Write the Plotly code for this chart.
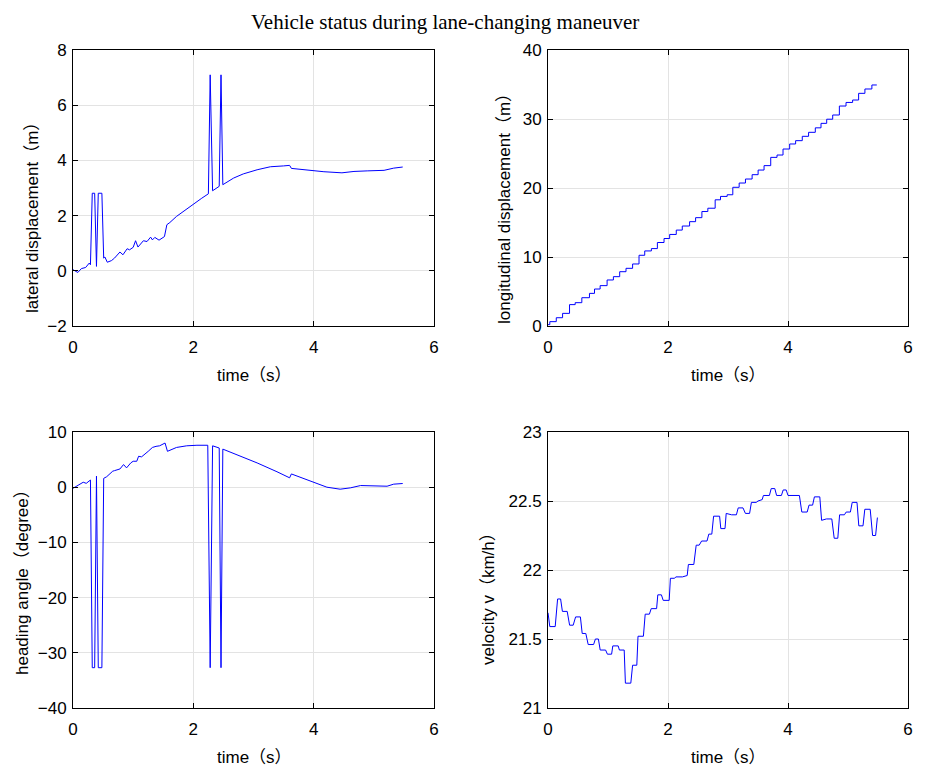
import plotly.graph_objects as go

# ---------------- data ----------------
lat_t = [0, 0.08, 0.14, 0.21, 0.27, 0.29, 0.32, 0.36, 0.39, 0.42,
         0.48, 0.51, 0.53, 0.57, 0.64, 0.69, 0.78, 0.83, 0.9, 0.94,
         1.0, 1.04, 1.08, 1.17, 1.23, 1.29, 1.32, 1.36, 1.43, 1.52,
         1.56, 1.61, 1.72, 1.83, 2.0, 2.14, 2.25, 2.28, 2.32, 2.43,
         2.46, 2.49, 2.67, 2.83, 3.06, 3.28, 3.5, 3.6, 3.63, 3.89,
         4.17, 4.47, 4.67, 4.89, 5.17, 5.33, 5.48]
lat_y = [0.04, -0.06, 0.08, 0.12, 0.28, 0.22, 2.81, 2.81, 0.16, 2.81,
         2.81, 0.46, 0.5, 0.31, 0.37, 0.46, 0.68, 0.58, 0.8, 0.76,
         0.85, 1.09, 0.86, 1.09, 1.06, 1.22, 1.12, 1.21, 1.11, 1.24,
         1.67, 1.75, 1.97, 2.15, 2.42, 2.63, 2.79, 7.1, 2.9, 3.06,
         7.1, 3.12, 3.36, 3.51, 3.66, 3.77, 3.8, 3.82, 3.71, 3.64,
         3.59, 3.55, 3.6, 3.62, 3.64, 3.72, 3.76]

lon_t = [0.0, 0.03, 0.138, 0.243, 0.359, 0.453, 0.564, 0.691, 0.775, 0.869,
         0.985, 1.09, 1.195, 1.30, 1.41, 1.517, 1.612, 1.723, 1.823, 1.934,
         2.028, 2.138, 2.238, 2.36, 2.46, 2.565, 2.664, 2.786, 2.875, 2.986,
         3.08, 3.186, 3.291, 3.402, 3.502, 3.601, 3.712, 3.817, 3.917, 4.028,
         4.127, 4.238, 4.343, 4.455, 4.55, 4.645, 4.745, 4.856, 4.967, 5.077,
         5.177, 5.282, 5.398, 5.48]
lon_y = [0.2, 0.63, 1.2, 1.83, 3.1, 3.38, 4.1, 4.73, 5.36, 5.85,
         6.67, 7.15, 7.87, 8.36, 8.99, 10.25, 10.88, 11.22, 12.1, 12.68,
         13.27, 13.9, 14.49, 15.12, 15.7, 16.59, 17.07, 18.29, 18.78, 19.02,
         20.1, 20.72, 21.3, 21.93, 22.6, 23.24, 24.44, 24.78, 25.65, 26.38,
         26.86, 27.49, 28.07, 28.72, 29.37, 29.97, 30.58, 31.88, 32.4, 32.75,
         33.72, 34.35, 34.93, 34.93]

hd_t = [0, 0.08, 0.17, 0.22, 0.27, 0.29, 0.32, 0.36, 0.39, 0.42,
        0.48, 0.51, 0.56, 0.66, 0.69, 0.78, 0.84, 0.89, 0.96, 1.0,
        1.06, 1.09, 1.14, 1.19, 1.25, 1.28, 1.32, 1.38, 1.44, 1.53,
        1.57, 1.72, 1.89, 2.06, 2.24, 2.28, 2.32, 2.43, 2.46, 2.49,
        2.72, 3.06, 3.39, 3.6, 3.63, 3.75, 4.0, 4.22, 4.44, 4.61,
        4.78, 5.0, 5.22, 5.33, 5.48]
hd_y = [-0.2, 0.3, 0.9, 0.7, 1.1, 1.3, -32.7, -32.7, 2.0, -32.7,
        -32.7, 1.6, 1.9, 2.9, 3.0, 3.3, 4.1, 3.5, 4.4, 4.7,
        4.7, 5.6, 5.5, 5.9, 6.5, 6.8, 7.2, 7.4, 7.5, 8.0,
        6.5, 7.2, 7.5, 7.6, 7.6, -32.7, 7.5, 7.1, -32.7, 6.9,
        5.9, 4.4, 2.8, 1.7, 2.4, 1.9, 0.8, 0, -0.36, -0.12,
        0.3, 0.24, 0.18, 0.55, 0.67]

vel_t = [0, 0.03, 0.12, 0.16, 0.21, 0.24, 0.32, 0.36, 0.42, 0.46,
         0.54, 0.57, 0.63, 0.67, 0.76, 0.79, 0.84, 0.87, 0.96, 0.99,
         1.06, 1.08, 1.17, 1.19, 1.27, 1.29, 1.38, 1.41, 1.48, 1.5,
         1.59, 1.62, 1.69, 1.72, 1.81, 1.83, 1.89, 1.92, 2.02, 2.04,
         2.11, 2.13, 2.24, 2.32, 2.34, 2.43, 2.47, 2.52, 2.56, 2.65,
         2.68, 2.73, 2.76, 2.86, 2.88, 2.95, 2.97, 3.06, 3.14, 3.17,
         3.25, 3.29, 3.36, 3.39, 3.47, 3.5, 3.57, 3.59, 3.69, 3.72,
         3.78, 3.81, 3.89, 3.92, 3.97, 4.0, 4.19, 4.23, 4.32, 4.35,
         4.41, 4.44, 4.53, 4.56, 4.64, 4.73, 4.77, 4.83, 4.86, 4.94,
         4.97, 5.04, 5.07, 5.15, 5.18, 5.25, 5.28, 5.37, 5.41, 5.46,
         5.49]
vel_y = [21.69, 21.59, 21.59, 21.79, 21.79, 21.70, 21.70, 21.60, 21.60, 21.66,
         21.66, 21.54, 21.54, 21.46, 21.46, 21.50, 21.50, 21.42, 21.42, 21.39,
         21.39, 21.45, 21.45, 21.42, 21.42, 21.18, 21.18, 21.31, 21.31, 21.52,
         21.52, 21.68, 21.68, 21.72, 21.72, 21.82, 21.82, 21.78, 21.78, 21.94,
         21.94, 21.95, 21.95, 21.96, 22.04, 22.04, 22.18, 22.18, 22.21, 22.21,
         22.26, 22.26, 22.39, 22.39, 22.30, 22.30, 22.41, 22.40, 22.40, 22.45,
         22.45, 22.41, 22.41, 22.49, 22.49, 22.50, 22.51, 22.54, 22.54, 22.59,
         22.59, 22.54, 22.54, 22.58, 22.58, 22.54, 22.54, 22.42, 22.42, 22.47,
         22.47, 22.53, 22.53, 22.36, 22.37, 22.37, 22.23, 22.23, 22.40, 22.40,
         22.42, 22.42, 22.49, 22.49, 22.32, 22.32, 22.44, 22.44, 22.25, 22.25,
         22.38]

x_ticks = [0, 2, 4, 6]
lat_ticks = [-2, 0, 2, 4, 6, 8]
lon_ticks = [0, 10, 20, 30, 40]
hd_ticks = [-40, -30, -20, -10, 0, 10]
vel_ticks = [21, 21.5, 22, 22.5, 23]

title_text = "Vehicle status during lane-changing maneuver"
time_label = "time（s）"
lat_label = "lateral displacement（m）"
lon_label = "longitudinal displacement（m）"
hd_label = "heading angle（degree）"
vel_label = "velocity v（km/h）"

# ---------------- figure ----------------
# page body has an 8px margin, so the figure is 8px smaller and
# page pixel coordinates are shifted by OFF
OFF = 8
W, H = 920, 760
SANS = "Liberation Sans, Arial, Noto Sans CJK SC, sans-serif"
LINE = dict(color="#0000ff", width=1)

fig = go.Figure()
fig.add_trace(go.Scatter(x=lat_t, y=lat_y, mode="lines", line=LINE, xaxis="x", yaxis="y"))
fig.add_trace(go.Scatter(x=lon_t, y=lon_y, mode="lines", line=dict(LINE, shape="hv"),
                         xaxis="x2", yaxis="y2"))
fig.add_trace(go.Scatter(x=hd_t, y=hd_y, mode="lines", line=LINE, xaxis="x3", yaxis="y3"))
fig.add_trace(go.Scatter(x=vel_t, y=vel_y, mode="lines", line=LINE, xaxis="x4", yaxis="y4"))

def px_x(a, b):
    return [(a - OFF) / W, (b - OFF) / W]

def px_y(top, bottom):
    return [1 - (bottom - OFF) / H, 1 - (top - OFF) / H]

common = dict(showline=True, linecolor="black", linewidth=1, mirror="ticks",
              ticks="inside", ticklen=5, tickcolor="black", tickwidth=1,
              showgrid=True, gridcolor="#e3e3e3", gridwidth=1, zeroline=False,
              automargin=False,
              tickfont=dict(family=SANS, size=17, color="black"))
xcommon = dict(common, ticklabelstandoff=6)
ycommon = dict(common, ticklabelstandoff=2)

LX, RX = px_x(73, 434), px_x(548, 908)
TY, BY = px_y(50, 326), px_y(432, 708)

fig.update_layout(
    width=W, height=H, margin=dict(l=0, r=0, t=0, b=0, autoexpand=False),
    paper_bgcolor="white", plot_bgcolor="white", showlegend=False,
    xaxis=dict(xcommon, domain=LX, range=[0, 6], tickvals=x_ticks, anchor="y"),
    yaxis=dict(ycommon, domain=TY, range=[-2, 8], tickvals=lat_ticks, anchor="x"),
    xaxis2=dict(xcommon, domain=RX, range=[0, 6], tickvals=x_ticks, anchor="y2"),
    yaxis2=dict(ycommon, domain=TY, range=[0, 40], tickvals=lon_ticks, anchor="x2"),
    xaxis3=dict(xcommon, domain=LX, range=[0, 6], tickvals=x_ticks, anchor="y3"),
    yaxis3=dict(ycommon, domain=BY, range=[-40, 10], tickvals=hd_ticks, anchor="x3"),
    xaxis4=dict(xcommon, domain=RX, range=[0, 6], tickvals=x_ticks, anchor="y4"),
    yaxis4=dict(ycommon, domain=BY, range=[21, 23], tickvals=vel_ticks, anchor="x4"),
)

def ann(text, x, y, angle=0, family=SANS, size=17, yanchor="middle"):
    fig.add_annotation(text=text, x=(x - OFF) / W, y=1 - (y - OFF) / H,
                       xref="paper", yref="paper",
                       showarrow=False, textangle=angle, xanchor="center", yanchor=yanchor,
                       font=dict(family=family, size=size, color="black"))

ann(title_text, 445, 8, family="Liberation Serif, Times New Roman, serif", size=21,
    yanchor="top")
ann(time_label, 254, 375)
ann(time_label, 728, 375)
ann(time_label, 254, 757)
ann(time_label, 728, 757)
ann(lat_label, 32, 214, angle=-90)
ann(lon_label, 505, 205, angle=-90)
ann(hd_label, 22, 578, angle=-90)
ann(vel_label, 488, 595, angle=-90)

fig.write_html("out.html")
